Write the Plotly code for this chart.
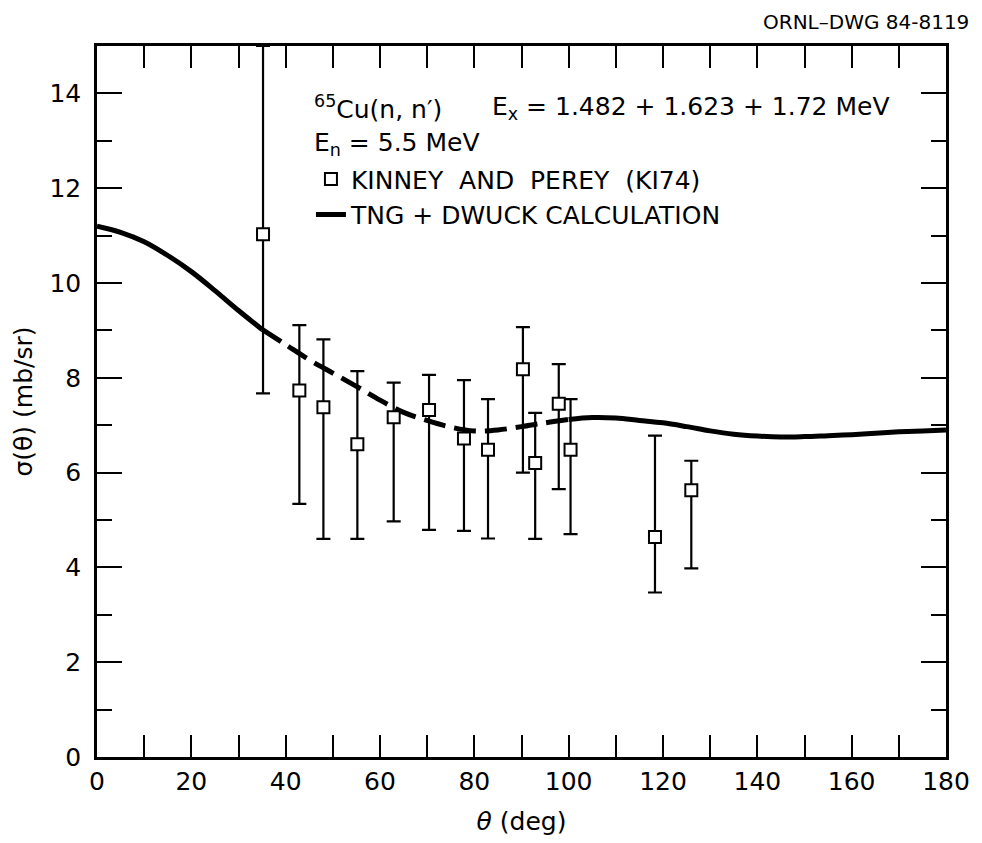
import plotly.graph_objects as go

# ---- data ----
theta = [35.2, 42.9, 48.0, 55.2, 62.9, 70.4, 77.8, 82.9, 90.3, 92.9, 97.9, 100.4, 118.3, 126.0]
sigma = [11.03, 7.73, 7.38, 6.60, 7.17, 7.32, 6.72, 6.48, 8.18, 6.20, 7.45, 6.48, 4.64, 5.63]
sig_hi = [15.0, 9.11, 8.81, 8.14, 7.90, 8.06, 7.95, 7.55, 9.07, 7.26, 8.29, 7.55, 6.78, 6.25]
sig_lo = [7.67, 5.34, 4.60, 4.60, 4.97, 4.79, 4.77, 4.61, 6.00, 4.60, 5.65, 4.70, 3.47, 3.98]

calc_theta = [0, 5, 10, 15, 20, 25, 30, 35, 40, 45, 50, 55, 60, 65, 70, 75, 80, 85, 90, 95,
              100, 105, 110, 115, 120, 125, 130, 135, 140, 145, 150, 155, 160, 165, 170, 175, 180]
calc_sigma = [11.20, 11.07, 10.87, 10.58, 10.24, 9.84, 9.42, 9.02, 8.70, 8.38, 8.10, 7.82, 7.53,
              7.27, 7.10, 6.96, 6.88, 6.90, 6.97, 7.05, 7.12, 7.16, 7.15, 7.10, 7.05, 6.97, 6.88,
              6.81, 6.77, 6.75, 6.76, 6.78, 6.80, 6.83, 6.86, 6.88, 6.90]
dash_start, dash_end = 35, 100

x_ticks = list(range(0, 181, 20))
y_ticks = list(range(0, 15, 2))

FONT = "DejaVu Sans"
FS = 25

# split curve into solid / dashed pieces
solid_x, solid_y, dash_x, dash_y = [], [], [], []
for t, s in zip(calc_theta, calc_sigma):
    if t <= dash_start or t >= dash_end:
        solid_x.append(t); solid_y.append(s)
    else:
        solid_x.append(None); solid_y.append(None)
    if dash_start <= t <= dash_end:
        dash_x.append(t); dash_y.append(s)

fig = go.Figure()

fig.add_trace(go.Scatter(
    x=solid_x, y=solid_y, mode="lines", connectgaps=False, line_shape="spline",
    line=dict(color="black", width=5), name="TNG + DWUCK CALCULATION",
    showlegend=True, legendrank=2))
fig.add_trace(go.Scatter(
    x=dash_x, y=dash_y, mode="lines", line_shape="spline",
    line=dict(color="black", width=5, dash="22px,9px"), showlegend=False))

err_plus = [h - s for h, s in zip(sig_hi, sigma)]
err_minus = [s - l for s, l in zip(sigma, sig_lo)]
fig.add_trace(go.Scatter(
    x=theta, y=sigma, mode="markers", name="KINNEY  AND  PEREY  (KI74)",
    marker=dict(symbol="square", size=12, color="white", line=dict(color="black", width=2)),
    error_y=dict(type="data", symmetric=False, array=err_plus, arrayminus=err_minus,
                 color="black", thickness=2.2, width=7),
    legendrank=1))

axis_common = dict(
    showline=True, linecolor="black", linewidth=2.5, mirror="ticks",
    ticks="inside", tickcolor="black", tickwidth=2,
    showgrid=False, zeroline=False,
    tickfont=dict(family=FONT, size=FS, color="black"),
)

fig.update_xaxes(
    range=[0, 180], tickvals=x_ticks, ticklen=22,
    minor=dict(dtick=10, ticklen=22, tickwidth=2, tickcolor="black", ticks="inside"),
    title=dict(text="<i>θ</i> (deg)", font=dict(family=FONT, size=FS, color="black"), standoff=18),
    **axis_common)
fig.update_yaxes(
    range=[0, 15], tickvals=y_ticks, ticklen=25,
    minor=dict(dtick=1, ticklen=15, tickwidth=2, tickcolor="black", ticks="inside"),
    ticklabelstandoff=8,
    title=dict(text="σ(θ) (mb/sr)", font=dict(family=FONT, size=FS, color="black"), standoff=10),
    **axis_common)

fig.add_annotation(
    xref="x", yref="y", x=45.5, y=13.7, xanchor="left", yanchor="middle",
    text="<sup>65</sup>Cu(n, n′)",
    showarrow=False, font=dict(family=FONT, size=FS, color="black"))
fig.add_annotation(
    xref="x", yref="y", x=83.3, y=13.7, xanchor="left", yanchor="middle",
    text="E<sub>x</sub> = 1.482 + 1.623 + 1.72 MeV",
    showarrow=False, font=dict(family=FONT, size=FS, color="black"))
fig.add_annotation(
    xref="x", yref="y", x=45.5, y=12.93, xanchor="left", yanchor="middle",
    text="E<sub>n</sub> = 5.5 MeV",
    showarrow=False, font=dict(family=FONT, size=FS, color="black"))
fig.add_annotation(
    xref="paper", yref="paper", x=1.029, y=1.034, xanchor="right", yanchor="middle",
    text="ORNL–DWG 84-8119",
    showarrow=False, font=dict(family=FONT, size=20, color="black"))

fig.update_layout(
    width=982, height=843,
    margin=dict(l=97, r=29, t=46, b=86),
    paper_bgcolor="white", plot_bgcolor="white",
    font=dict(family=FONT, size=FS, color="black"),
    legend=dict(x=0.252, y=0.845, xanchor="left", yanchor="top",
                bgcolor="rgba(0,0,0,0)", font=dict(family=FONT, size=FS, color="black"),
                tracegroupgap=0, itemwidth=30),
)

fig.write_html("out.html")
